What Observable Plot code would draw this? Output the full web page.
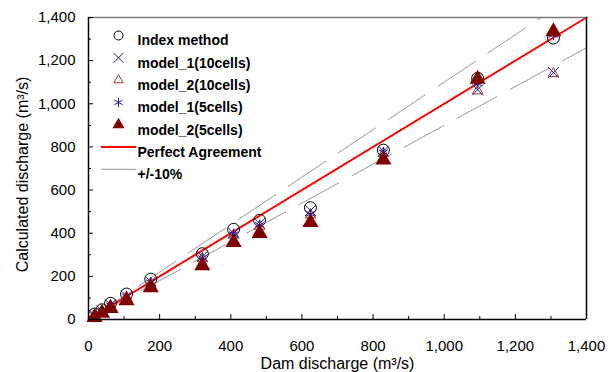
<!DOCTYPE html>
<html><head><meta charset="utf-8">
<script src="https://cdn.jsdelivr.net/npm/d3@7"></script>
<script src="https://cdn.jsdelivr.net/npm/@observablehq/plot@0.6"></script>
<style>body{margin:0;background:#fff;font-family:"Liberation Sans",Arial,sans-serif}</style>
</head><body><div id="chart"></div>
<script>
// Dam discharge (m3/s)
const damQ = [17, 38, 62, 107, 175, 320, 408, 481, 624, 829, 1094, 1307];
// Calculated discharge by method
const indexMethod = [25, 45, 75, 118, 187, 305, 418, 460, 518, 785, 1118, 1305];
const model1_10 = [20, 40, 68, 108, 175, 292, 400, 445, 505, 780, 1065, 1145];
const model2_10 = [18, 38, 64, 104, 168, 282, 392, 432, 485, 770, 1060, 1140];
const model1_5 = [20, 40, 66, 106, 172, 285, 395, 438, 490, 775, 1095, 1320];
const model2_5 = [10, 30, 52, 88, 148, 250, 358, 400, 450, 740, 1115, 1335];
const lineX = [0, 1400];
const tickMajor = [0, 200, 400, 600, 800, 1000, 1200, 1400];
const tickMinor = [100, 300, 500, 700, 900, 1100, 1300];
const legendLabels = ["Index method", "model_1(10cells)", "model_2(10cells)", "model_1(5cells)", "model_2(5cells)", "Perfect Agreement", "+/-10%"];
const xTitle = "Dam discharge (m³/s)";
const yTitle = "Calculated discharge (m³/s)";

const rows = s => damQ.map((x, i) => ({x, y: s[i]}));
const fmt = d3.format(",");
const blue = "#1a1aa0", dred = "#800000";

const lineSym = {draw(ctx) { ctx.moveTo(-17.5, 0); ctx.lineTo(17.5, 0); }};

const series = [
  {data: indexMethod, symbol: "circle", r: 6, stroke: "#000", fill: "none"},
  {data: model1_10, symbol: "times", r: 5, stroke: blue, fill: "none"},
  {data: model2_10, symbol: "triangle2", r: 5, stroke: "#993333", fill: "none"},
  {data: model1_5, symbol: "asterisk", r: 5, stroke: blue, fill: "none"},
  {data: model2_5, symbol: "triangle", r: 6, stroke: "none", fill: dred}
];
const legendStyles = [
  {symbol: "circle", r: 4.5, stroke: "#000", fill: "none"},
  {symbol: "times", r: 4.5, stroke: blue, fill: "none"},
  {symbol: "triangle2", r: 4.5, stroke: "#993333", fill: "none"},
  {symbol: "asterisk", r: 4.5, stroke: blue, fill: "none"},
  {symbol: "triangle", r: 4.5, stroke: "none", fill: dred},
  {symbol: lineSym, r: 5, stroke: "#ff0000", fill: "none", strokeWidth: 2},
  {symbol: lineSym, r: 5, stroke: "#999", fill: "none", strokeWidth: 1}
];

const marks = [
  Plot.line(lineX.map(x => ({x, y: x * 1.1})), {x: "x", y: "y", stroke: "#999", strokeWidth: 1, strokeDasharray: "45,15", clip: "frame"}),
  Plot.line(lineX.map(x => ({x, y: x * 0.9})), {x: "x", y: "y", stroke: "#999", strokeWidth: 1, strokeDasharray: "45,15", clip: "frame"}),
  Plot.line(lineX.map(x => ({x, y: x})), {x: "x", y: "y", stroke: "#ff0000", strokeWidth: 2}),
  ...series.map(s => Plot.dot(rows(s.data), {x: "x", y: "y", symbol: s.symbol, r: s.r, stroke: s.stroke, fill: s.fill, strokeWidth: 1})),
  Plot.ruleY([1400], {stroke: "#777", strokeWidth: 1.5}),
  Plot.ruleX([1400], {stroke: "#000", strokeWidth: 1.5}),
  Plot.ruleY([0], {stroke: "#000", strokeWidth: 1.5}),
  Plot.ruleX([0], {stroke: "#000", strokeWidth: 1.5}),
  Plot.axisX(tickMajor, {tickSize: 0, tickPadding: 21, tickFormat: fmt, fontSize: 15, label: null}),
  Plot.axisX(tickMajor, {text: null, tickSize: -5, label: null}),
  Plot.axisX(tickMinor, {text: null, tickSize: -3, label: null}),
  Plot.axisY(tickMajor, {tickSize: 0, tickPadding: 13, tickFormat: fmt, fontSize: 15, label: null}),
  Plot.axisY(tickMajor, {text: null, tickSize: -5, label: null}),
  Plot.axisY(tickMinor, {text: null, tickSize: -3, label: null}),
  Plot.text([xTitle], {frameAnchor: "bottom", dy: 44, text: d => d, textAnchor: "middle", lineAnchor: "middle", fontSize: 16, fill: "#000"}),
  Plot.text([yTitle], {frameAnchor: "left", dx: -66, dy: 6, rotate: -90, text: d => d, textAnchor: "middle", lineAnchor: "middle", fontSize: 16, fill: "#000"}),
  ...legendStyles.map((st, i) => Plot.dot([legendLabels[i]], {frameAnchor: "top-left", dx: 30, dy: 18 + i * 22.3, strokeWidth: 1, ...st})),
  ...legendLabels.map((lab, i) => Plot.text([lab], {frameAnchor: "top-left", dx: 49, dy: 18 + i * 22.3, text: d => d, textAnchor: "start", fontWeight: "bold", fontSize: 14, fill: "#000"}))
];

const chart = Plot.plot({
  width: 616, height: 372,
  marginLeft: 88, marginRight: 30, marginTop: 17, marginBottom: 53,
  style: {fontFamily: "'Liberation Sans', Arial, sans-serif", fontSize: "15px", color: "#000", background: "#fff"},
  x: {domain: [0, 1400]},
  y: {domain: [0, 1400]},
  marks
});
document.getElementById("chart").appendChild(chart);
</script></body></html>
